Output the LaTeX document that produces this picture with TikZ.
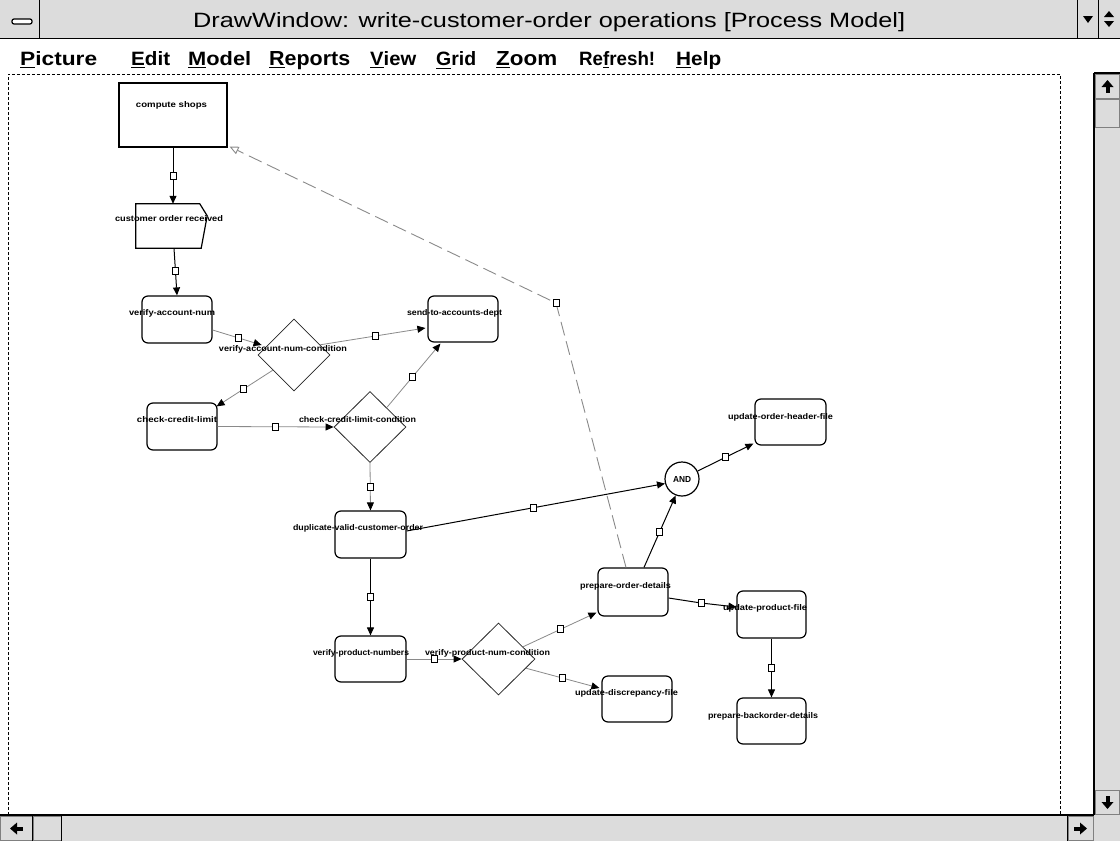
\documentclass[tikz,border=0pt]{standalone}
\usepackage{fontspec}
\setmainfont{Liberation Sans}
\usetikzlibrary{arrows.meta,calc,shapes.geometric}
\definecolor{chrome}{HTML}{DCDCDC}
\definecolor{shade}{HTML}{808080}
\definecolor{wire}{HTML}{8A8A8A}
% fit a text into a given width (pt) at a fixed height
\newcommand\lw[2]{\resizebox{#1pt}{6pt}{\bfseries #2}}
\newcommand\mw[2]{\resizebox{#1pt}{14pt}{\bfseries #2}}
\begin{document}
\begin{tikzpicture}[x=1pt,y=-1pt,
  proc/.style={draw=black,line width=1.2pt,rounded corners=6pt,inner sep=0pt},
  cond/.style={draw=black!85,line width=0.8pt,shape=diamond,inner sep=0pt},
  lbl/.style={inner sep=0pt},
  flow/.style={draw=black,line width=1pt,-{Triangle[length=8pt,width=7pt]}},
  cflow/.style={draw=wire,line width=0.8pt,-{Triangle[length=8pt,width=7pt,color=black]}},
  dlink/.style={draw=wire,line width=0.9pt,dash pattern=on 14pt off 6pt,
                -{Triangle[open,length=9pt,width=8pt,color=wire]}},
  tick/.style={draw=black,fill=white,line width=0.8pt,minimum width=6pt,minimum height=7pt,inner sep=0pt},
  btn/.style={fill=chrome,draw=shade,line width=0.8pt},
  menu/.style={inner sep=0pt,anchor=base west}]

\useasboundingbox (0,0) rectangle (1120,841);
\fill[white] (0,0) rectangle (1120,841);

% ---------- title bar ----------
\fill[chrome] (0,0) rectangle (1120,38);
\draw[line width=1.2pt] (0,38.5) -- (1120,38.5);
\draw[line width=1pt] (39,0) -- (39,38) (1077,0) -- (1077,38) (1098,0) -- (1098,38);
\draw[fill=white,line width=1.2pt,rounded corners=2pt] (12,19) rectangle (32,24);
\node[menu] (title) at (193,27) {\resizebox{712pt}{15pt}{DrawWindow: write-customer-order operations [Process Model]}};
\fill (1083,16) -- (1093,16) -- (1088,23) -- cycle;
\fill (1104,17) -- (1114,17) -- (1109,11) -- cycle;
\fill (1104,21) -- (1114,21) -- (1109,27) -- cycle;

% ---------- menu bar ----------
\node[menu] (mPicture) at (20,65)  {\mw{77}{\underline{P}icture}};
\node[menu] (mEdit)    at (131,65) {\mw{39}{\underline{E}dit}};
\node[menu] (mModel)   at (188,65) {\mw{63}{\underline{M}odel}};
\node[menu] (mReports) at (269,65) {\mw{81}{\underline{R}eports}};
\node[menu] (mView)    at (370,65) {\mw{46}{\underline{V}iew}};
\node[menu] (mGrid)    at (436,65) {\mw{40}{\underline{G}rid}};
\node[menu] (mZoom)    at (496,65) {\mw{61}{\underline{Z}oom}};
\node[menu] (mRefresh) at (579,65) {\mw{76}{Re\underline{f}resh!}};
\node[menu] (mHelp)    at (676,65) {\mw{45}{\underline{H}elp}};

% ---------- drawing area border ----------
\draw[line width=1pt,dash pattern=on 3pt off 2pt] (8,815) -- (8,74) -- (1060,74) -- (1060,815);

% ---------- scroll bars ----------
\fill[chrome] (1094,73) rectangle (1120,841);
\fill[chrome] (0,815) rectangle (1094,841);
\draw[btn] (1095.5,74.5) rectangle (1119.5,98);
\draw[btn] (1095.5,99) rectangle (1119.5,127);
\draw[btn] (1095.5,790) rectangle (1119.5,814);
\draw[btn] (0.5,816.5) rectangle (32,840.5);
\draw[btn] (33,816.5) rectangle (61,840.5);
\draw[btn] (1068,816.5) rectangle (1093,840.5);
\draw[line width=1.3pt] (1094,73) -- (1094,815) (0,815) -- (1094,815) (1094,73) -- (1120,73);
\draw[line width=1pt] (32.5,815) -- (32.5,841) (61.5,815) -- (61.5,841) (1067.5,815) -- (1067.5,841);
% arrow glyphs
\fill (1107.5,80) -- (1101.5,87) -- (1113.5,87) -- cycle;  \fill (1105.5,86) rectangle (1109.5,93);
\fill (1107.5,809) -- (1101.5,802) -- (1113.5,802) -- cycle; \fill (1105.5,796) rectangle (1109.5,803);
\fill (10,828.5) -- (17,822.5) -- (17,834.5) -- cycle;  \fill (16,826.5) rectangle (23,830.5);
\fill (1087,828.5) -- (1080,822.5) -- (1080,834.5) -- cycle; \fill (1074,826.5) rectangle (1081,830.5);

% ---------- process model ----------
\node[draw=black,line width=1.2pt,minimum width=108pt,minimum height=64pt,inner sep=0pt] (cs) at (173,115) {};
\node[minimum width=71pt,minimum height=44pt,inner sep=0pt] (cor) at (171.5,226) {};
\draw[line width=1.2pt] (cor.north west) -- ($(cor.north west)+(64,0)$) -- ($(cor.north east)+(0,12)$)
      -- ($(cor.south east)+(-6,0)$) -- (cor.south west) -- cycle;
\node[proc,minimum width=70pt,minimum height=47pt] (van) at (177,319.5) {};
\node[cond,minimum width=72pt,minimum height=72pt] (d1) at (294,355) {};
\node[proc,minimum width=70pt,minimum height=46pt] (sad) at (463,319) {};
\node[proc,minimum width=70pt,minimum height=47pt] (ccl) at (182,426.5) {};
\node[cond,minimum width=72pt,minimum height=71pt] (d2) at (370,427) {};
\node[proc,minimum width=71pt,minimum height=47pt] (dup) at (370.5,534.5) {};
\node[draw=black,line width=1.2pt,circle,minimum size=34pt,inner sep=0pt] (andj) at (682,479) {\lw{18}{AND}};
\node[proc,minimum width=71pt,minimum height=46pt] (uoh) at (790.5,422) {};
\node[proc,minimum width=70pt,minimum height=48pt] (pod) at (633,592) {};
\node[proc,minimum width=69pt,minimum height=47pt] (upf) at (771.5,614.5) {};
\node[proc,minimum width=69pt,minimum height=46pt] (pbd) at (771.5,721) {};
\node[proc,minimum width=71pt,minimum height=46pt] (vpn) at (370.5,659) {};
\node[cond,minimum width=73pt,minimum height=72pt] (d3) at (498.5,659) {};
\node[proc,minimum width=70pt,minimum height=46pt] (udf) at (637,699) {};

% ---------- connectors ----------
\coordinate (bend) at (556,303);
\draw[dlink] ($(pod.north)+(-7,0)$) -- (bend) -- ($(cs.south east)+(2,-1)$);
\node[tick] (m18) at (bend) {};

\draw[flow] (cs.south) -- node[tick](m1){} (cs.south |- cor.north);
\draw[flow] ($(cor.south)+(2.5,0)$) -- node[tick,pos=.48](m2){} (van.north);
\draw[cflow] ($(van.east)+(0,10.5)$) -- node[tick,pos=.52](m3){} ($(d1.west)+(4,-10)$);
\draw[cflow] ($(d1.north east)+(8,8)$) -- node[tick,pos=.52](m4){} ($(sad.west)+(-2,9)$);
\draw[cflow] ($(d1.south west)+(-3,-3)$) -- node[tick,pos=.53](m5){} ($(ccl.north east)+(-1,4)$);
\draw[cflow] (ccl.east) -- node[tick](m6){} (d2.west);
\draw[cflow] ($(d2.north east)+(-1,-2)$) -- node[tick,pos=.48](m7){} ($(sad.south west)+(13,1)$);
\draw[cflow] (d2.south) -- node[tick](m8){} (dup.north);
\draw[flow] ($(dup.east)+(0,-3.5)$) -- node[tick,pos=.49](m9){} (andj.195);
\draw[flow] (andj.27) -- node[tick](m10){} ($(uoh.south west)+(-1,-2)$);
\draw[flow] ($(pod.north)+(11,0)$) -- node[tick,pos=.49](m11){} (andj.249);
\coordinate (kink) at (701,603);
\draw[flow] ($(pod.east)+(0,6)$) -- (kink) -- ($(upf.west)+(0,-7.5)$);
\node[tick] (m12) at (kink) {};
\draw[flow] (upf.south) -- node[tick](m13){} (pbd.north);
\draw[flow] (dup.south) -- node[tick](m14){} (vpn.north);
\draw[cflow] (vpn.east) -- node[tick](m15){} (d3.west);
\draw[cflow] ($(d3.north east)+(6,6)$) -- node[tick,pos=.51](m16){} ($(pod.south west)+(-1,-4)$);
\draw[cflow] ($(d3.south east)+(9,-9)$) -- node[tick,pos=.5](m17){} ($(udf.west)+(-2,-11)$);

% ---------- labels ----------
\node[lbl] (cs-t)   at (171.5,105) {\lw{71}{compute shops}};
\node[lbl] (cor-t)  at (169,219)   {\lw{108}{customer order received}};
\node[lbl] (van-t)  at (172,313)   {\lw{86}{verify-account-num}};
\node[lbl] (d1-t)   at (283,349)   {\lw{128}{verify-account-num-condition}};
\node[lbl] (sad-t)  at (454.5,313) {\lw{95}{send-to-accounts-dept}};
\node[lbl] (ccl-t)  at (177,420)   {\lw{80}{check-credit-limit}};
\node[lbl] (d2-t)   at (357.5,420) {\lw{117}{check-credit-limit-condition}};
\node[lbl] (dup-t)  at (358,528)   {\lw{130}{duplicate-valid-customer-order}};
\node[lbl] (uoh-t)  at (780.5,417) {\lw{105}{update-order-header-file}};
\node[lbl] (pod-t)  at (625.5,586) {\lw{91}{prepare-order-details}};
\node[lbl] (upf-t)  at (765,608)   {\lw{84}{update-product-file}};
\node[lbl] (pbd-t)  at (763,716)   {\lw{110}{prepare-backorder-details}};
\node[lbl] (vpn-t)  at (361,653)   {\lw{96}{verify-product-numbers}};
\node[lbl] (d3-t)   at (487.5,653) {\lw{125}{verify-product-num-condition}};
\node[lbl] (udf-t)  at (626.5,693) {\lw{103}{update-discrepancy-file}};
\end{tikzpicture}
\end{document}
